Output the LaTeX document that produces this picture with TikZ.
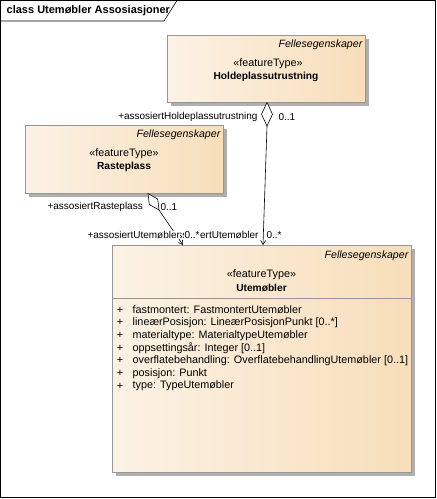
\documentclass[tikz,border=0pt]{standalone}
\usepackage{fontspec}
\setmainfont{Liberation Sans}
\usetikzlibrary{arrows.meta,shadows,calc}
\definecolor{boxL}{RGB}{251,242,229}
\definecolor{boxR}{RGB}{248,222,186}
\definecolor{boxB}{RGB}{150,150,150}
\definecolor{shad}{RGB}{175,175,175}
\tikzset{
  umlbox/.style={draw=boxB, line width=0.8pt, left color=boxL, right color=boxR,
    anchor=north west, inner sep=0pt,
    general shadow={fill=shad, shadow xshift=3.5pt, shadow yshift=-3.5pt}},
  txt/.style={font=\fontsize{10.8}{12}\selectfont, inner sep=0.5pt},
  pkg/.style={font=\fontsize{10.6}{12}\selectfont\itshape, inner sep=0.5pt, anchor=east},
  bold/.style={font=\fontsize{10.2}{12}\selectfont\bfseries, inner sep=0.5pt},
  ttl/.style={font=\fontsize{11}{12}\selectfont\bfseries, inner sep=0.5pt},
  lbl/.style={font=\fontsize{10}{12}\selectfont, inner sep=0.3pt},
  conn/.style={draw=black, line width=0.6pt},
  arr/.style={conn, -{Straight Barb[length=4pt,width=5pt]}},
  dia/.style={draw=black, line width=0.6pt, fill=white}
}
\begin{document}
\begin{tikzpicture}[x=1pt,y=-1pt]
\useasboundingbox (0,0) rectangle (437,499);
% frame
\draw[line width=0.8pt] (0.5,0.5) rectangle (435.5,497.5);
\draw[line width=0.6pt] (0.5,21) -- (164,21) -- (177,0.5);
\node[ttl, anchor=west] (title) at (6,11) {class Utemøbler Assosiasjoner};

% boxes
\node[umlbox, minimum width=198pt, minimum height=67pt] (hold) at (167,35) {};
\node[umlbox, minimum width=198pt, minimum height=68pt] (rast) at (25,125) {};
\node[umlbox, minimum width=299pt, minimum height=227pt] (ute) at (112,245) {};
\draw[boxB, line width=0.8pt] (112,298) -- (411,298);

% hold texts
\node[pkg] (holdpkg) at (363,45) {Fellesegenskaper};
\node[txt] (holdst) at (268,64) {«featureType»};
\node[bold] (holdnm) at (266,77) {Holdeplassutrustning};
% rast texts
\node[pkg] (rastpkg) at (221,135) {Fellesegenskaper};
\node[txt] (rastst) at (124,154) {«featureType»};
\node[bold] (rastnm) at (124,167) {Rasteplass};
% ute texts
\node[pkg] (utepkg) at (409,256) {Fellesegenskaper};
\node[txt] (utest) at (261.5,275) {«featureType»};
\node[bold] (utenm) at (261.5,288) {Utemøbler};

% attributes
\foreach \i/\t in {0/{fastmontert: FastmontertUtemøbler},
                   1/{lineærPosisjon: LineærPosisjonPunkt [0..*]},
                   2/{materialtype: MaterialtypeUtemøbler},
                   3/{oppsettingsår: Integer [0..1]},
                   4/{overflatebehandling: OverflatebehandlingUtemøbler [0..1]},
                   5/{posisjon: Punkt},
                   6/{type: TypeUtemøbler}}{
  \node[txt, anchor=center] (plus\i) at (120,310+12.7*\i) {+};
  \node[txt, anchor=west] (attr\i) at (132,310+12.7*\i) {\t};
}

% connector Holdeplassutrustning -> Utemøbler
\coordinate (hdT) at (267,102.5);
\coordinate (hdB) at (267,126);
\coordinate (uteH) at (263,245);
\draw[arr] (hdB) -- (uteH);
\draw[dia] (hdT) -- (272.5,114.25) -- (hdB) -- (261.5,114.25) -- cycle;

% connector Rasteplass -> Utemøbler
\coordinate (rdT) at (148,193.5);
\coordinate (rdB) at (159,210);
\coordinate (uteR) at (183,245);
\draw[arr] (rdB) -- (uteR);
\draw[dia] (rdT) -- (157.7,199) -- (rdB) -- (149.3,204.5) -- cycle;

% labels
\node[lbl, anchor=east] (lh1) at (258,117) {+assosiertHoldeplassutrustning};
\node[lbl, anchor=west] (lh2) at (278,117) {0..1};
\node[lbl, anchor=west] (lr1) at (47,207) {+assosiertRasteplass};
\node[lbl, anchor=west] (lr2) at (160,207) {0..1};
\node[lbl, anchor=east] (lu3) at (259,235) {+assosiertUtemøbler};
\node[lbl, anchor=west] (lu4) at (266,235) {0..*};
\node[lbl, anchor=west, fill=white] (lu1) at (87,235) {+assosiertUtemøbler};
\node[lbl, anchor=west, fill=white] (lu2) at (184,235) {0..*};
\end{tikzpicture}
\end{document}
